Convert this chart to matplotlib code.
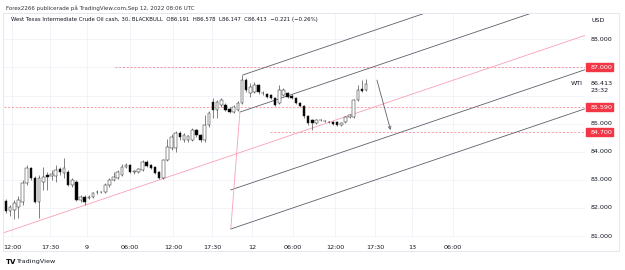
import matplotlib
matplotlib.use("Agg")
import matplotlib.pyplot as plt
from matplotlib.patches import Rectangle
from matplotlib.transforms import blended_transform_factory

# Velas de 30 min (WTI cash)
opens = [82.25, 81.89, 81.93, 82.03, 82.21, 82.89, 83.42, 83.06, 82.21, 82.92,
         83.17, 83.14, 83.14, 83.38, 83.24, 83.28, 82.81, 82.92, 82.28, 82.39,
         82.37, 82.39, 82.55, 82.57, 82.57, 82.81, 82.99, 83.06, 83.17, 83.46,
         83.53, 83.28, 83.28, 83.35, 83.63, 83.53, 83.46, 83.28, 83.06, 83.70,
         84.13, 84.13, 84.67, 84.42, 84.42, 84.42, 84.77, 84.59, 84.42, 84.95,
         85.77, 85.48, 85.66, 85.66, 85.52, 85.41, 85.48, 85.73, 86.55, 86.09,
         86.12, 86.37, 86.10, 86.05, 86.02, 85.91, 85.73, 86.02, 86.09, 85.98,
         85.91, 85.73, 85.63, 85.27, 85.13, 85.02, 85.12, 85.10, 85.07, 85.06,
         85.06, 84.95, 85.06, 85.24, 85.24, 85.84, 86.23, 86.191]
highs = [82.32, 82.10, 82.28, 82.42, 82.99, 83.53, 83.46, 83.14, 83.17, 83.46,
         83.28, 83.35, 83.53, 83.46, 83.78, 83.35, 83.06, 82.99, 82.46, 82.46,
         82.46, 82.57, 82.64, 82.60, 82.89, 83.06, 83.28, 83.35, 83.56, 83.60,
         83.56, 83.35, 83.42, 83.70, 83.70, 83.56, 83.49, 83.31, 83.74, 84.45,
         84.63, 84.74, 84.74, 84.67, 84.59, 84.84, 84.81, 84.63, 85.31, 85.45,
         85.91, 85.84, 85.91, 85.73, 85.59, 85.66, 85.80, 86.73, 86.62, 86.45,
         86.48, 86.41, 86.16, 86.09, 86.05, 85.95, 86.37, 86.27, 86.12, 86.05,
         85.95, 85.77, 85.66, 85.31, 85.16, 85.16, 85.16, 85.13, 85.09, 85.09,
         85.09, 85.06, 85.27, 85.34, 85.88, 86.37, 86.55, 86.578]
lows = [81.82, 81.71, 81.61, 81.64, 82.10, 82.81, 82.99, 82.17, 81.64, 82.64,
        82.64, 82.99, 82.92, 83.17, 83.06, 82.78, 82.74, 82.25, 82.21, 82.10,
        82.32, 82.35, 82.49, 82.53, 82.53, 82.74, 82.96, 83.03, 83.14, 83.42,
        83.24, 83.21, 83.24, 83.31, 83.46, 83.38, 83.21, 83.03, 83.03, 83.67,
        84.06, 83.99, 84.42, 84.35, 84.35, 84.38, 84.52, 84.35, 84.35, 84.88,
        85.20, 85.20, 85.59, 85.45, 85.38, 85.38, 85.45, 85.70, 86.12, 85.95,
        86.09, 86.05, 86.02, 85.91, 85.88, 85.63, 85.70, 85.98, 85.91, 85.88,
        85.70, 85.59, 85.20, 84.95, 84.77, 84.99, 85.09, 85.06, 85.02, 84.95,
        84.91, 84.91, 85.02, 85.20, 85.20, 85.80, 86.12, 86.147]
closes = [81.89, 82.03, 82.17, 82.28, 82.89, 83.42, 83.06, 82.21, 83.06, 83.10,
          83.10, 83.21, 83.35, 83.28, 83.42, 82.81, 82.99, 82.28, 82.39, 82.21,
          82.39, 82.53, 82.57, 82.56, 82.81, 82.99, 83.10, 83.28, 83.46, 83.53,
          83.28, 83.31, 83.38, 83.63, 83.49, 83.42, 83.24, 83.06, 83.70, 84.17,
          84.52, 84.67, 84.52, 84.59, 84.56, 84.77, 84.59, 84.42, 84.95, 85.38,
          85.48, 85.77, 85.84, 85.48, 85.41, 85.59, 85.73, 86.55, 86.20, 86.30,
          86.37, 86.12, 86.09, 85.95, 85.91, 85.66, 86.20, 86.20, 85.95, 85.91,
          85.73, 85.63, 85.27, 85.02, 85.02, 85.13, 85.13, 85.09, 85.05, 84.99,
          84.95, 85.02, 85.24, 85.31, 85.84, 86.20, 86.16, 86.413]

time_labels = ["12:00", "17:30", "9", "06:00", "12:00", "17:30",
               "12", "06:00", "12:00", "17:30", "13", "06:00"]
time_pos = [1.45, 10.63, 19.57, 29.95, 40.34, 49.76,
            59.42, 69.32, 79.47, 89.13, 98.07, 107.97]
price_ticks = [81, 82, 83, 84, 85, 88]
grid_prices = [81, 82, 83, 84, 85, 86, 87, 88]

# niveles horizontales marcados
level_prices = [87.000, 85.590, 84.700]
level_start = [26.3, -0.5, 63.8]
last_price = 86.413

# dibujos (canal / tridente)
channel_x0 = [57.2, 56.5, 54.3, 54.3]
channel_y0 = [86.73, 85.41, 82.64, 81.25]
channel_slope = 0.05
median_x = [-0.5, 139.9]
median_y = [81.12, 88.14]
handle_x = [54.3, 56.5]
handle_y = [81.25, 85.41]
arrow_x = [89.6, 92.9]
arrow_y = [86.55, 84.77]

X_MIN, X_MAX = -0.48, 139.86
Y_MIN, Y_MAX = 80.93, 88.90
RED = "#f23645"
TXT = "#131722"

W, H = 625, 270
fig = plt.figure(figsize=(6.25, 2.7), dpi=100)
fig.patch.set_facecolor("white")


def fx(px):
    return px / W


def fy(py):
    return 1 - py / H


# marco general
fig.patches.append(Rectangle((fx(3), fy(251)), fx(619) - fx(3), fy(13) - fy(251),
                             transform=fig.transFigure, fill=False,
                             edgecolor="#e0e3eb", lw=0.6))

ax = fig.add_axes([fx(4), fy(238), fx(585) - fx(4), fy(14) - fy(238)])
ax.set_xlim(X_MIN, X_MAX)
ax.set_ylim(Y_MIN, Y_MAX)
for s in ax.spines.values():
    s.set_visible(False)
ax.set_xticks([])
ax.set_yticks([])

# grilla
for p in grid_prices:
    ax.axhline(p, color="#f0f3fa", lw=0.6, zorder=0)
for t in time_pos:
    ax.axvline(t, color="#f0f3fa", lw=0.6, zorder=0)

# velas
for i in range(len(opens)):
    o, h, l, c = opens[i], highs[i], lows[i], closes[i]
    ax.vlines(i, l, h, color="#222222", lw=0.4, zorder=3)
    body = max(abs(c - o), 0.012)
    face = "white" if c >= o else "black"
    ax.bar(i, body, bottom=min(o, c), width=0.62, color=face,
           edgecolor="#222222", lw=0.35, zorder=4)

# niveles punteados
for p, x0 in zip(level_prices, level_start):
    ax.plot([x0, X_MAX], [p, p], color=RED, alpha=0.55, lw=0.6,
            dashes=(2.5, 2), zorder=2)

# líneas del canal
for x0, y0 in zip(channel_x0, channel_y0):
    x1 = X_MAX + 1
    ax.plot([x0, x1], [y0, y0 + channel_slope * (x1 - x0)],
            color="#5d606b", lw=0.6, zorder=2)
ax.plot(median_x, median_y, color="#f7a1b5", lw=0.6, zorder=2)
ax.plot(handle_x, handle_y, color="#f7a1b5", lw=0.6, zorder=2)
ax.annotate("", xy=(arrow_x[1], arrow_y[1]), xytext=(arrow_x[0], arrow_y[0]),
            arrowprops=dict(arrowstyle="->", color="#5d606b", lw=0.6,
                            shrinkA=0, shrinkB=0, mutation_scale=5))

# eje de precios
tr = blended_transform_factory(ax.transAxes, ax.transData)
def ax_x(px):
    return (px - 4) / 581

for p in price_ticks:
    ax.text(ax_x(591), p, f"{p:.3f}", transform=tr, fontsize=4.6,
            color=TXT, va="center", ha="left", clip_on=False)
for p in level_prices:
    ax.add_patch(Rectangle((ax_x(585.7), p - 0.145), ax_x(612.7) - ax_x(585.7), 0.29,
                           transform=tr, color=RED, clip_on=False, zorder=6))
    ax.text(ax_x(591), p, f"{p:.3f}", transform=tr, fontsize=4.6,
            color="white", va="center", ha="left", clip_on=False, zorder=7)
ax.text(ax_x(591), last_price + 0.01, f"{last_price:.3f}", transform=tr, fontsize=4.6,
        color=TXT, va="center", ha="left", clip_on=False)
ax.text(ax_x(591), last_price - 0.25, "23:32", transform=tr, fontsize=4.6,
        color=TXT, va="center", ha="left", clip_on=False)
ax.text(ax_x(583), last_price + 0.01, "WTI", transform=tr, fontsize=4.6,
        color=TXT, va="center", ha="right", clip_on=False)
fig.text(fx(592), fy(21), "USD", fontsize=4.6, color=TXT, va="center", ha="left")

# eje de tiempo
for t, lab in zip(time_pos, time_labels):
    ax.text(t, -0.03, lab, transform=blended_transform_factory(ax.transData, ax.transAxes),
            fontsize=4.6, color=TXT, ha="center", va="top", clip_on=False)

# textos de cabecera y pie
fig.text(fx(6), fy(8.5), "Forex2266 publicerade på TradingView.com,Sep 12, 2022 08:06 UTC",
         fontsize=4.0, color="#333333", va="center", ha="left")
fig.text(fx(11), fy(20), "West Texas Intermediate Crude Oil cash, 30, BLACKBULL  "
         "O86.191  H86.578  L86.147  C86.413  \u22120.221 (\u22120.26%)",
         fontsize=3.9, color=TXT, va="center", ha="left")
fig.text(fx(6), fy(262), "TV", fontsize=5, fontweight="bold", color="black",
         va="center", ha="left")
fig.text(fx(16), fy(262), "TradingView", fontsize=4.6, color=TXT, va="center", ha="left")

fig.savefig("out.png", dpi=100)
